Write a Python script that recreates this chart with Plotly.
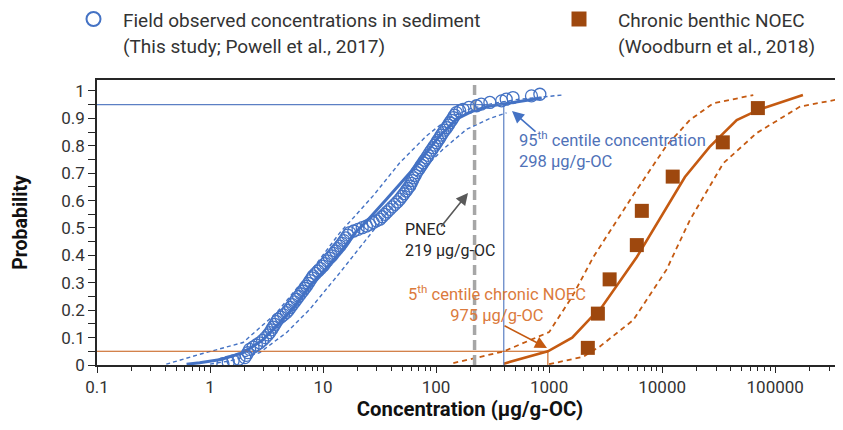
import plotly.graph_objects as go

# ---------------- data ----------------
field_conc = [1.30, 1.45, 1.60, 1.80, 2.03, 2.09, 2.16, 2.24, 2.40, 2.57, 2.75, 2.92, 3.09, 3.25, 3.37, 3.49, 3.61, 3.74, 3.87, 4.00,
              4.24, 4.48, 4.74, 4.93, 5.14, 5.36, 5.58, 5.82, 6.07, 6.34, 6.61, 6.89, 7.13, 7.40, 7.67, 7.96, 8.17, 8.59, 9.04, 9.51, 10.0,
              10.4, 10.9, 11.4, 11.9, 12.4, 12.9, 13.5, 14.1, 14.7, 15.3, 15.9, 16.5, 17.2, 18.7, 20.4, 22.2, 24.2, 25.9, 27.8, 29.7, 31.8,
              33.4, 35.2, 37.0, 38.9, 40.9, 43.1, 45.3, 47.7, 49.8, 52.0, 54.2, 56.2, 58.5, 60.1, 61.8, 63.5, 65.3, 67.1, 69.3, 71.8, 74.1, 76.8,
              79.4, 82.2, 84.9, 87.9, 91.0, 94.2, 97.5, 101, 104, 108, 111, 115, 119, 124, 128, 132, 137, 142, 146, 151,
              162, 173, 195, 228, 251, 299, 380, 417, 479, 698, 828]
field_prob = [0.005, 0.010, 0.015, 0.021, 0.027, 0.035, 0.045, 0.057, 0.065, 0.073, 0.081, 0.090, 0.100, 0.110, 0.118, 0.128, 0.138, 0.148, 0.158, 0.167,
              0.175, 0.183, 0.191, 0.200, 0.210, 0.220, 0.230, 0.240, 0.250, 0.260, 0.270, 0.280, 0.288, 0.298, 0.308, 0.318, 0.325, 0.334, 0.343, 0.352, 0.361,
              0.370, 0.380, 0.390, 0.398, 0.407, 0.416, 0.425, 0.434, 0.444, 0.454, 0.464, 0.474, 0.483, 0.489, 0.495, 0.501, 0.507, 0.513, 0.520, 0.526, 0.532,
              0.541, 0.550, 0.559, 0.568, 0.577, 0.586, 0.595, 0.605, 0.615, 0.625, 0.635, 0.644, 0.653, 0.663, 0.673, 0.683, 0.692, 0.702, 0.711, 0.720, 0.729, 0.738,
              0.747, 0.756, 0.765, 0.775, 0.784, 0.793, 0.802, 0.811, 0.820, 0.829, 0.839, 0.848, 0.857, 0.866, 0.875, 0.884, 0.893, 0.903, 0.912, 0.921,
              0.927, 0.933, 0.940, 0.946, 0.952, 0.958, 0.964, 0.970, 0.976, 0.982, 0.988]

field_fit_conc = [0.62, 0.81, 1.25, 1.96, 2.9, 3.87, 5.5, 7.62, 10.5, 14.1, 19, 25, 36.4, 48, 62.5, 82, 108, 151, 212, 299, 480, 860]
field_fit_prob = [0.003, 0.008, 0.02, 0.045, 0.09, 0.142, 0.21, 0.288, 0.35, 0.41, 0.48, 0.53, 0.605, 0.66, 0.714, 0.775, 0.836, 0.897, 0.927, 0.945, 0.958, 0.974]
field_up_conc = [0.41, 0.81, 1.96, 3.87, 7.62, 14.1, 27.7, 47.7, 82.2, 132, 200, 300, 500, 1290]
field_up_prob = [0.003, 0.039, 0.082, 0.19, 0.337, 0.483, 0.617, 0.738, 0.836, 0.903, 0.935, 0.952, 0.968, 0.985]
field_lo_conc = [1.0, 1.5, 2.75, 4.74, 7.62, 14.1, 24.2, 41.7, 67.1, 115, 186, 300, 420]
field_lo_prob = [0.003, 0.015, 0.045, 0.118, 0.203, 0.337, 0.459, 0.58, 0.69, 0.787, 0.86, 0.9, 0.92]

noec_conc = [2200, 2700, 3430, 5970, 6610, 12400, 34400, 70300]
noec_prob = [0.0625, 0.1875, 0.3125, 0.4375, 0.5625, 0.6875, 0.8125, 0.9375]

ssd_conc = [397, 975, 1600, 2440, 2800, 5970, 15900, 26300, 45700, 70200, 176000]
ssd_prob = [0.005, 0.05, 0.10, 0.18, 0.20, 0.394, 0.686, 0.796, 0.894, 0.93, 0.985]
ssd_up_conc = [142, 392, 1000, 1600, 2470, 5550, 10900, 17600, 28300, 64000]
ssd_up_prob = [0.007, 0.049, 0.12, 0.25, 0.395, 0.62, 0.80, 0.894, 0.955, 0.985]
ssd_lo_conc = [1000, 2000, 2800, 5550, 10900, 17600, 34700, 68400, 166000, 400000]
ssd_lo_prob = [0.003, 0.03, 0.067, 0.164, 0.347, 0.529, 0.736, 0.846, 0.943, 0.973]

x_min = 0.1
p95_line_conc = 397      # where the 95th-centile guide is drawn
p95_level = 0.95
hc5_conc = 975
hc5_level = 0.05
pnec_conc = 219
y_max = 1.04

x_tickvals = [0.1, 1, 10, 100, 1000, 10000, 100000]
x_ticktext = ["0.1", "1", "10", "100", "1000", "10000", "100000"]

# ---------------- styling ----------------
BLUE = "#4472C4"
ORANGE = "#C55A11"
SQUARE = "#9E480E"
ORANGE_TXT = "#DB7A3C"
BLUE_TXT = "#4F72B8"
FONT = "Roboto, 'Open Sans', sans-serif"

# the page body adds an 8px margin, so the figure is drawn 8px smaller
OFF = 8
W, H = 843 - OFF, 430 - OFF
# plot area in screenshot pixels
SL, SR, ST, SB = 97, 843, 80, 365
L, R, T, B = SL - OFF, SR - OFF, ST - OFF, SB - OFF
PW, PH = R - L, B - T

def px(X):
    return (X - OFF - L) / PW

def py(Y):
    return (B - (Y - OFF)) / PH

fig = go.Figure()

# blue field distribution
fig.add_trace(go.Scatter(x=field_up_conc, y=field_up_prob, mode="lines",
                         line=dict(color=BLUE, width=1.4, dash="4px,3px"), showlegend=False, hoverinfo="skip"))
fig.add_trace(go.Scatter(x=field_lo_conc, y=field_lo_prob, mode="lines",
                         line=dict(color=BLUE, width=1.4, dash="4px,3px"), showlegend=False, hoverinfo="skip"))
fig.add_trace(go.Scatter(x=field_fit_conc, y=field_fit_prob, mode="lines",
                         line=dict(color=BLUE, width=3), showlegend=False, hoverinfo="skip"))

# orange SSD
fig.add_trace(go.Scatter(x=ssd_up_conc, y=ssd_up_prob, mode="lines",
                         line=dict(color=ORANGE, width=1.8, dash="5px,4px"), showlegend=False, hoverinfo="skip"))
fig.add_trace(go.Scatter(x=ssd_lo_conc, y=ssd_lo_prob, mode="lines",
                         line=dict(color=ORANGE, width=1.8, dash="5px,4px"), showlegend=False, hoverinfo="skip"))
fig.add_trace(go.Scatter(x=ssd_conc, y=ssd_prob, mode="lines",
                         line=dict(color=ORANGE, width=2.6), showlegend=False, hoverinfo="skip"))

# guide lines
fig.add_trace(go.Scatter(x=[x_min, p95_line_conc, p95_line_conc], y=[p95_level, p95_level, 0], mode="lines",
                         line=dict(color="#5B7FC4", width=1.2), showlegend=False, hoverinfo="skip"))
fig.add_trace(go.Scatter(x=[x_min, hc5_conc, hc5_conc], y=[hc5_level, hc5_level, 0], mode="lines",
                         line=dict(color=ORANGE, width=1.1), showlegend=False, hoverinfo="skip"))
fig.add_trace(go.Scatter(x=[pnec_conc, pnec_conc], y=[0, y_max], mode="lines",
                         line=dict(color="#A6A6A6", width=3.5, dash="10px,5px"), showlegend=False, hoverinfo="skip"))

# points
fig.add_trace(go.Scatter(x=field_conc, y=field_prob, mode="markers",
                         marker=dict(symbol="circle-open", size=12, color=BLUE, line=dict(width=1.3, color=BLUE)),
                         name="Field observed concentrations in sediment", showlegend=False))
fig.add_trace(go.Scatter(x=noec_conc, y=noec_prob, mode="markers",
                         marker=dict(symbol="square", size=14, color=SQUARE),
                         name="Chronic benthic NOEC", showlegend=False))

ann = []
def text(X, Y, s, color="#333333", size=17, anchor="left", pad=1):
    ann.append(dict(x=px(X), y=py(Y), xref="paper", yref="paper", text=s, showarrow=False,
                    xanchor=anchor, yanchor="middle", align=anchor if anchor != "center" else "center",
                    borderpad=pad, font=dict(family=FONT, size=size, color=color)))

def arrow(tipX, tipY, tailX, tailY, color):
    ann.append(dict(x=px(tipX), y=py(tipY), xref="paper", yref="paper", text="", showarrow=True,
                    ax=tailX - tipX, ay=tailY - tipY, axref="pixel", ayref="pixel",
                    arrowhead=2, arrowsize=1.5, arrowwidth=1.6, arrowcolor=color, standoff=0, startstandoff=0))

# legend (manual)
text(122, 20, "Field observed concentrations in sediment", size=19, color="#333333", pad=0)
text(122, 46, "(This study; Powell et al., 2017)", size=19, color="#333333", pad=0)
text(617, 20, "Chronic benthic NOEC", size=19, color="#333333", pad=0)
text(617, 46, "(Woodburn et al., 2018)", size=19, color="#333333", pad=0)

# annotations (two-line blocks)
text(403, 240, "PNEC<br>219 µg/g-OC", color="#262626", size=16)
text(517, 149, "95<sup>th</sup> centile concentration<br>298 µg/g-OC", color=BLUE_TXT, size=16.5)
text(496.5, 303, "5<sup>th</sup> centile chronic NOEC<br>975 µg/g-OC", color=ORANGE_TXT, size=16.5, anchor="center")

arrow(468, 193, 440, 228, "#595959")
arrow(512, 111, 537, 133, BLUE)
arrow(547, 348, 503, 325, ORANGE)

shapes = [
    dict(type="circle", xref="paper", yref="paper", x0=px(86.5), x1=px(100.5), y0=py(26), y1=py(12),
         line=dict(color=BLUE, width=2), fillcolor="rgba(0,0,0,0)"),
    dict(type="rect", xref="paper", yref="paper", x0=px(571.5), x1=px(586.5), y0=py(26.5), y1=py(11.5),
         line=dict(width=0), fillcolor=SQUARE),
]

fig.update_layout(
    width=W, height=H,
    margin=dict(l=L, r=W - R, t=T, b=H - B, pad=0, autoexpand=False),
    paper_bgcolor="white", plot_bgcolor="white",
    font=dict(family=FONT, size=17, color="#333333"),
    showlegend=False,
    annotations=ann, shapes=shapes,
    xaxis=dict(type="log", range=[-1, 5.6], tickvals=x_tickvals, ticktext=x_ticktext, automargin=False,
               ticks="outside", ticklen=6, tickwidth=1.3, tickcolor="#262626",
               minor=dict(ticks="outside", ticklen=4, tickwidth=1, tickcolor="#262626", dtick="D1", showgrid=False),
               showline=True, linecolor="#262626", linewidth=1.6, mirror=True,
               showgrid=False, zeroline=False,
               tickfont=dict(family=FONT, size=17, color="#333333"),
               title=dict(text="<b>Concentration (µg/g-OC)</b>", standoff=6,
                          font=dict(family=FONT, size=20.3, color="#111111"))),
    yaxis=dict(range=[0, y_max], dtick=0.1, tick0=0, automargin=False,
               ticks="outside", ticklen=7, tickwidth=1.3, tickcolor="#262626",
               minor=dict(ticks="outside", ticklen=7, tickwidth=1.3, tickcolor="#262626", dtick=0.05, showgrid=False),
               showline=True, linecolor="#262626", linewidth=1.6,
               showgrid=False, zeroline=False,
               tickfont=dict(family=FONT, size=17, color="#333333"),
               title=dict(text="<b>Probability</b>", standoff=28,
                          font=dict(family=FONT, size=19.5, color="#111111"))),
)

fig.write_html("out.html")
